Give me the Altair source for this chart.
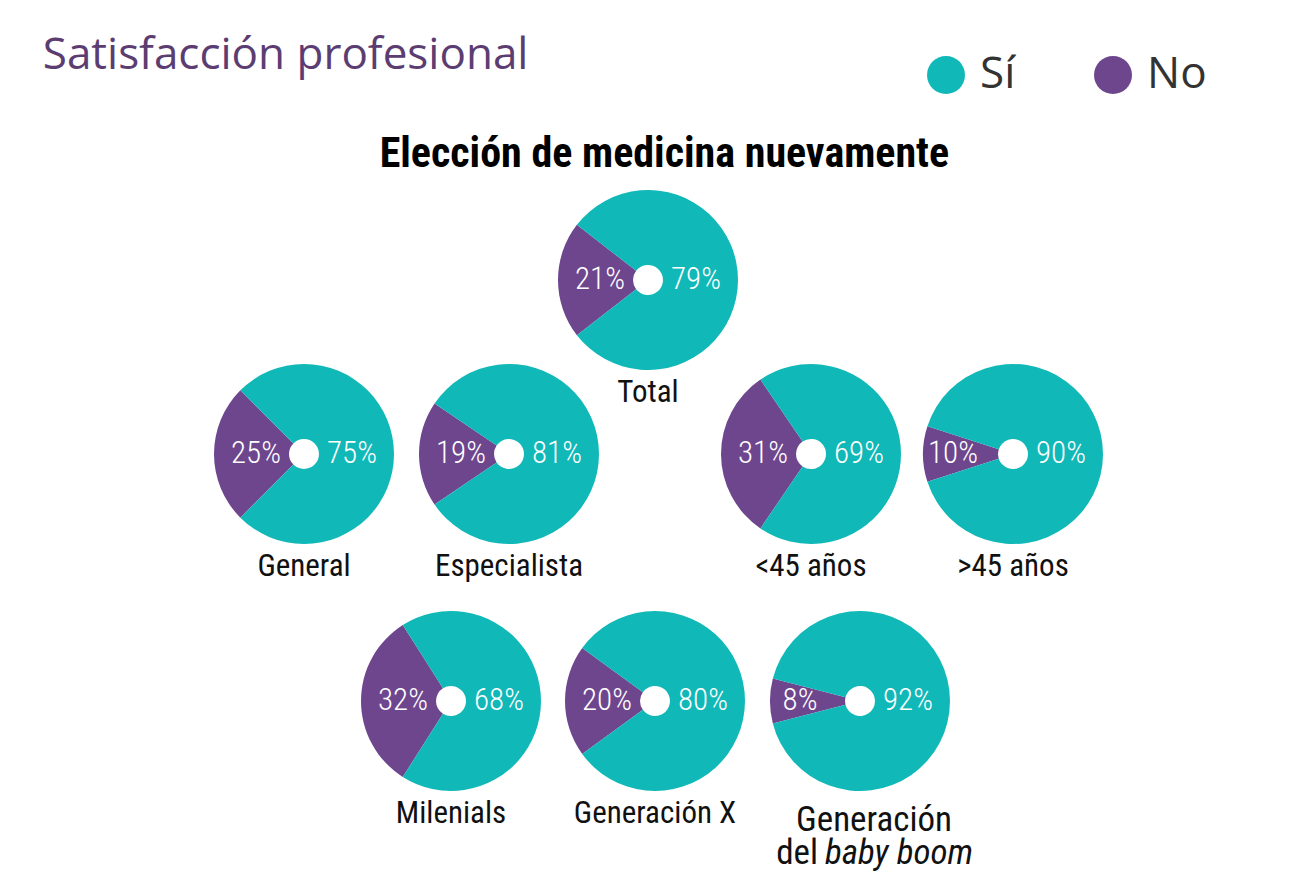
import math
import altair as alt
import pandas as pd

# ---- data ----
categories = ["Total", "General", "Especialista", "<45 años", ">45 años",
              "Milenials", "Generación X", "Generación del baby boom"]
si_values = [79, 75, 81, 69, 90, 68, 80, 92]
no_values = [21, 25, 19, 31, 10, 32, 20, 8]
responses = ["Sí", "No"]

TEAL = "#10B8B8"
PURPLE = "#6E468E"
COND = "Roboto Condensed"
SANS = "Open Sans"
PW, PH = 2, 160          # view box of one pie (the pie itself overflows it)

color_enc = alt.Color(
    "resp:N",
    scale=alt.Scale(domain=responses, range=[TEAL, PURPLE]),
    legend=alt.Legend(
        orient="none", legendX=908, legendY=-146, direction="horizontal",
        title=None, symbolType="circle", symbolSize=1444, symbolStrokeWidth=0,
        symbolOpacity=1, labelFontSize=44, labelFont=SANS, labelColor="#333333",
        labelOffset=12, columnPadding=75,
    ),
)


def pie(i, label=True):
    df = pd.DataFrame({
        "resp": ["No", "Sí"],
        "v": [no_values[i], si_values[i]],
        "ord": [0, 1],
        "label": [f"{no_values[i]}%", f"{si_values[i]}%"],
    })
    start = 1.5 * math.pi - no_values[i] / 100 * math.pi
    theta = alt.Theta("v:Q", stack=True,
                      scale=alt.Scale(domain=[0, 100], range=[start, start + 2 * math.pi]))
    base = alt.Chart(df).encode(theta=theta, order=alt.Order("ord:Q"), detail="resp:N")
    arc = base.mark_arc(outerRadius=90, innerRadius=15).encode(color=color_enc)
    txt_style = dict(font=COND, fontSize=31, fontWeight=300, color="white")
    # a narrow "No" wedge gets its label pushed further out, as in the original
    no_radius = 60 if no_values[i] < 15 else 48
    txt_no = base.mark_text(radius=no_radius, **txt_style).encode(
        text=alt.condition("datum.resp == 'No'", "label:N", alt.value("")))
    txt_si = base.mark_text(radius=48, **txt_style).encode(
        text=alt.condition("datum.resp == 'Sí'", "label:N", alt.value("")))
    layers = [arc, txt_no, txt_si]
    props = dict(width=PW, height=PH)
    if label:
        props["title"] = alt.TitleParams(
            categories[i], orient="bottom", font=COND, fontSize=31,
            fontWeight="normal", color="#111111", offset=8, anchor="middle")
    else:
        l1 = alt.Chart(pd.DataFrame({"t": ["Generación"]})).mark_text(
            font=COND, fontSize=35, color="#111111", baseline="alphabetic"
        ).encode(text="t:N", x=alt.value(PW / 2 + 14), y=alt.value(PH / 2 + 130))
        l2 = alt.Chart(pd.DataFrame({"t": ["del"]})).mark_text(
            font=COND, fontSize=35, color="#111111", baseline="alphabetic", align="right"
        ).encode(text="t:N", x=alt.value(PW / 2 - 42), y=alt.value(PH / 2 + 163))
        l3 = alt.Chart(pd.DataFrame({"t": ["baby boom"]})).mark_text(
            font=COND, fontSize=35, fontStyle="italic", color="#111111",
            baseline="alphabetic", align="left"
        ).encode(text="t:N", x=alt.value(PW / 2 - 35), y=alt.value(PH / 2 + 163))
        layers += [l1, l2, l3]
    return alt.layer(*layers).properties(**props)


def spacer(w, h):
    return alt.Chart(pd.DataFrame({"a": [0]})).mark_point(opacity=0).properties(width=w, height=h)


# layout grid: column widths, and which pie sits in which column of each row
col_widths = [287, 147, 58, 139, 7, 156, 49, 153, 2]
layout_rows = [({4: 0}, 174), ({1: 1, 3: 2, 6: 3, 8: 4}, 247), ({2: 5, 5: 6, 7: 7}, PH)]

cells = [spacer(w, 1) for w in col_widths]
for placed, row_h in layout_rows:
    for c in range(len(col_widths)):
        if c in placed:
            i = placed[c]
            cells.append(pie(i, label=(i != 7)))
        else:
            cells.append(spacer(1, row_h))

pies_grid = alt.concat(
    *cells, columns=len(col_widths), bounds="flush",
    spacing={"row": 0, "column": 0},
    title=alt.TitleParams("Elección de medicina nuevamente", anchor="middle",
                          font=COND, fontSize=42, fontWeight="bold", color="#000000",
                          dx=106, offset=14),
).resolve_scale(theta="independent", color="shared")

chart = alt.vconcat(
    pies_grid,
    title=alt.TitleParams("Satisfacción profesional", anchor="start", font=SANS,
                          fontSize=44, fontWeight="normal", color="#5B3D72",
                          dx=29, offset=-25),
).resolve_scale(theta="independent", color="shared").properties(
    padding={"left": 5, "top": 26, "right": 5, "bottom": 5},
    background="white",
).configure_view(strokeWidth=0, stroke="transparent")

chart.save("out.html", embed_options={"renderer": "svg", "actions": False})
